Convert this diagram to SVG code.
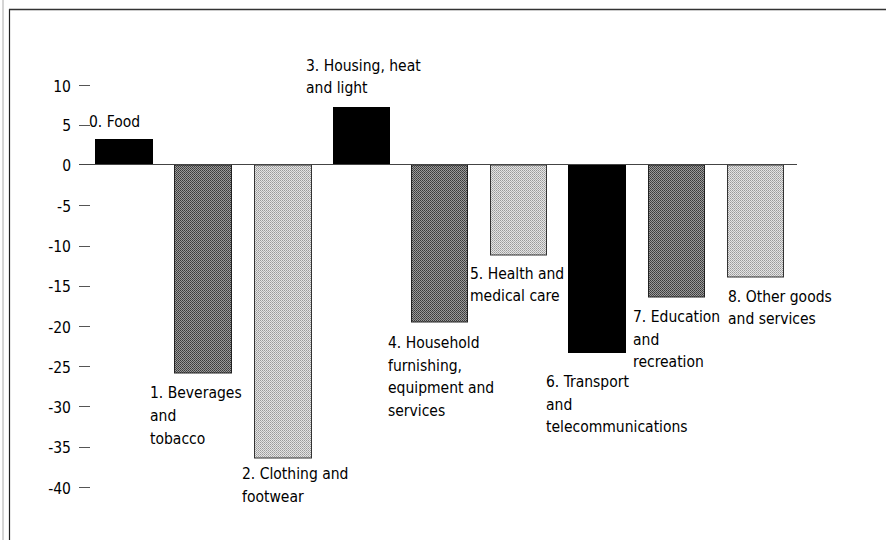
<svg xmlns="http://www.w3.org/2000/svg" width="886" height="540" viewBox="0 0 886 540">
<style>
text{font-family:'DejaVu Sans Condensed','DejaVu Sans','Liberation Sans',sans-serif;font-stretch:condensed;font-size:15.5px;fill:#000}
.ax{text-anchor:end}
.tick{stroke:#555;stroke-width:1}
.black{fill:#000}
.dark{fill:url(#pdark);stroke:#222;stroke-width:1}
.light{fill:url(#plight);stroke:#333;stroke-width:1}
</style>
<defs>
<pattern id="pdark" width="2" height="2" patternUnits="userSpaceOnUse">
<rect width="2" height="2" fill="#9a9a9a"/>
<rect width="1" height="1" fill="#3a3a3a"/>
<rect x="1" y="1" width="1" height="1" fill="#4a4a4a"/>
</pattern>
<pattern id="plight" width="2" height="2" patternUnits="userSpaceOnUse">
<rect width="2" height="2" fill="#e4e4e4"/>
<rect width="1" height="1" fill="#9a9a9a"/>
<rect x="1" y="1" width="1" height="1" fill="#b0b0b0"/>
</pattern>
</defs>
<rect width="886" height="540" fill="#fff"/>
<g id="frame">
<line x1="3" y1="0" x2="3" y2="540" stroke="#aaa" stroke-width="1"/>
<line x1="9.5" y1="9" x2="9.5" y2="540" stroke="#222" stroke-width="1.2"/>
<line x1="9" y1="9.5" x2="886" y2="9.5" stroke="#333" stroke-width="1.5"/>
</g>
<g id="axis">
<text class="ax" x="71" y="91.5">10</text>
<text class="ax" x="71" y="131">5</text>
<text class="ax" x="71" y="171">0</text>
<text class="ax" x="71" y="211.5">-5</text>
<text class="ax" x="71" y="251.5">-10</text>
<text class="ax" x="71" y="292">-15</text>
<text class="ax" x="71" y="332.5">-20</text>
<text class="ax" x="71" y="372.5">-25</text>
<text class="ax" x="71" y="412.5">-30</text>
<text class="ax" x="71" y="453">-35</text>
<text class="ax" x="71" y="493.5">-40</text>
<line class="tick" x1="79" y1="85.5" x2="90" y2="85.5"/>
<line class="tick" x1="79" y1="125.5" x2="90" y2="125.5"/>
<line class="tick" x1="79" y1="205.5" x2="90" y2="205.5"/>
<line class="tick" x1="79" y1="246.5" x2="90" y2="246.5"/>
<line class="tick" x1="79" y1="286.5" x2="90" y2="286.5"/>
<line class="tick" x1="79" y1="326.5" x2="90" y2="326.5"/>
<line class="tick" x1="79" y1="366.5" x2="90" y2="366.5"/>
<line class="tick" x1="79" y1="406.5" x2="90" y2="406.5"/>
<line class="tick" x1="79" y1="447.5" x2="90" y2="447.5"/>
<line class="tick" x1="79" y1="487.5" x2="90" y2="487.5"/>
</g>
<g id="bars">
<g id="bar0"><rect class="black" x="95" y="139" width="58" height="26"/><text x="89" y="127">0. Food</text></g>
<g id="bar1"><rect class="dark" x="174.5" y="165" width="57" height="208"/><text x="150" y="398">1. Beverages</text><text x="150" y="421">and</text><text x="150" y="444">tobacco</text></g>
<g id="bar2"><rect class="light" x="254.5" y="165" width="57" height="293"/><text x="242" y="479">2. Clothing and</text><text x="242" y="502">footwear</text></g>
<g id="bar3"><rect class="black" x="333" y="107" width="57" height="58"/><text x="306" y="71">3. Housing, heat</text><text x="306" y="93">and light</text></g>
<g id="bar4"><rect class="dark" x="411.5" y="165" width="56" height="157"/><text x="388" y="348">4. Household</text><text x="388" y="370.5">furnishing,</text><text x="388" y="393">equipment and</text><text x="388" y="416">services</text></g>
<g id="bar5"><rect class="light" x="490.5" y="165" width="56" height="90"/><text x="470" y="279">5. Health and</text><text x="470" y="301">medical care</text></g>
<g id="bar6"><rect class="black" x="568" y="165" width="58" height="188"/><text x="546" y="387">6. Transport</text><text x="546" y="410">and</text><text x="546" y="432">telecommunications</text></g>
<g id="bar7"><rect class="dark" x="648.5" y="165" width="56" height="132"/><text x="633" y="322">7. Education</text><text x="633" y="345">and</text><text x="633" y="367">recreation</text></g>
<g id="bar8"><rect class="light" x="727.5" y="165" width="56" height="112"/><text x="728" y="302">8. Other goods</text><text x="728" y="324">and services</text></g>
</g>
<g id="connectors">
<line x1="79" y1="164.5" x2="797" y2="164.5" stroke="#444" stroke-width="1"/>
</g>
</svg>
